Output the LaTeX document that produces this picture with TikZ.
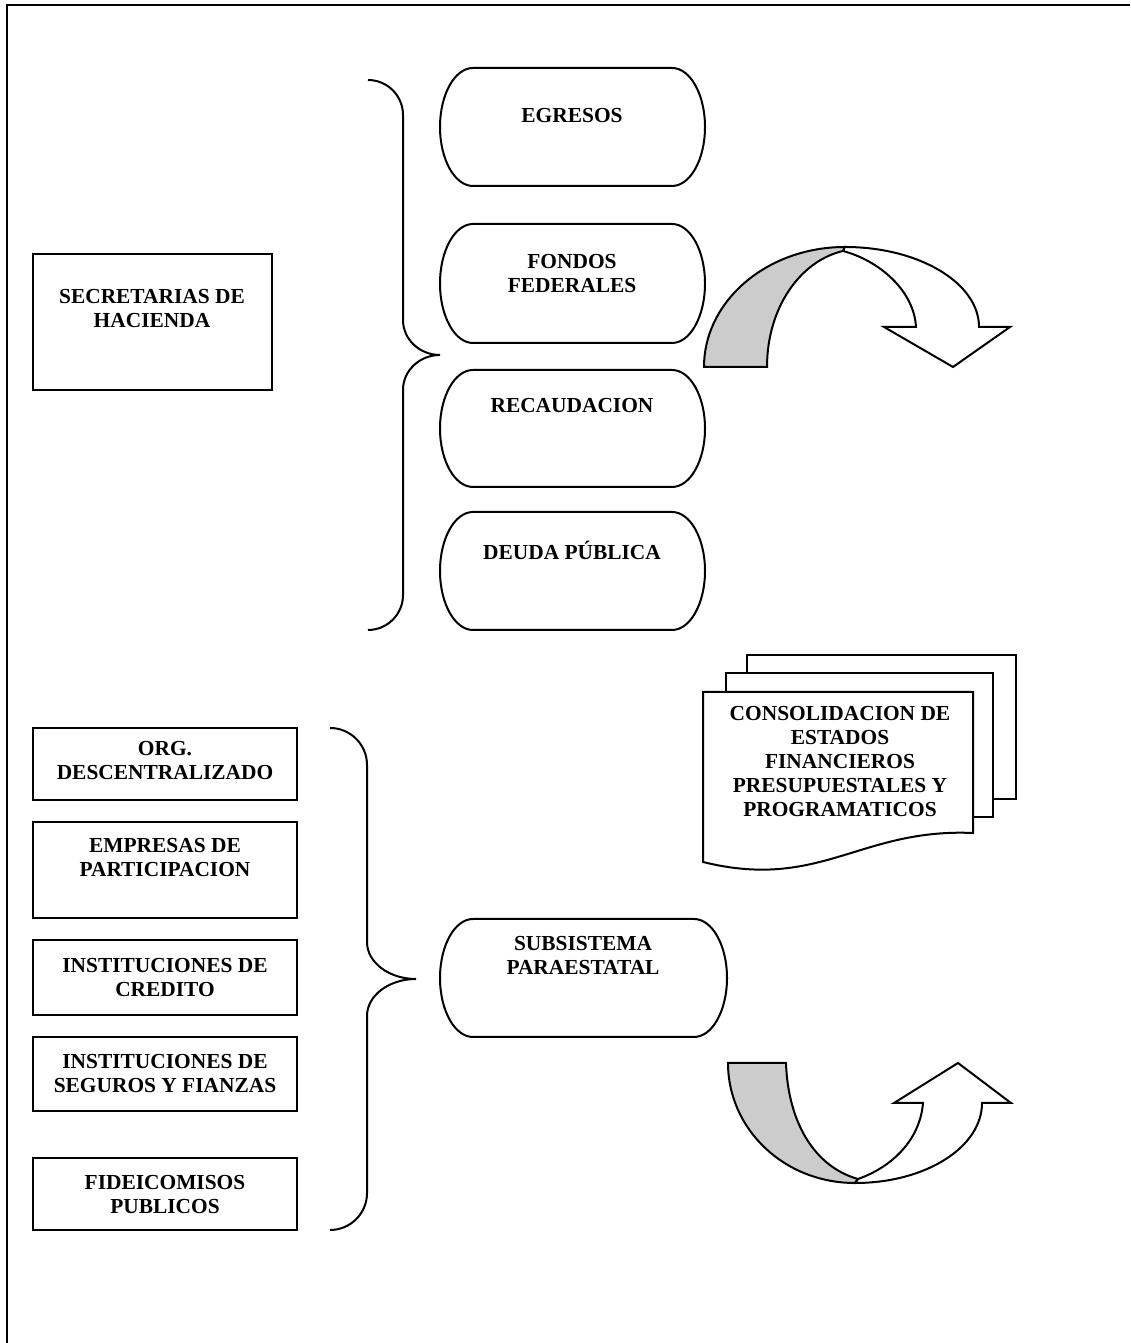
\documentclass[tikz,border=0pt]{standalone}
\usepackage{fontspec}
\setmainfont{Liberation Serif}
\begin{document}
\begin{tikzpicture}[x=0.5pt, y=0.5pt,
    borde/.style={line width=1pt},
    marco/.style={line width=1.3pt},
    hoja/.style={borde, fill=white},
    sombra/.style={borde, fill=black!20},
    texto/.style={font=\fontsize{10.7}{12}\selectfont\bfseries, align=center, inner sep=0pt}]
  \useasboundingbox (0,0) rectangle (1130,1343);
  \draw[marco] (7,0) -- (7,1338) -- (1130,1338);
  % secretarias de hacienda
  \draw[borde] (33,1089) rectangle (272,953);
  \node[texto] (hacienda) at (152,1034) {SECRETARIAS DE\\HACIENDA};
  \draw[borde] (368,1263) arc[start angle=90, end angle=0, radius=35] -- (403,1023)
    arc[start angle=180, end angle=270, x radius=37, y radius=35]
    arc[start angle=90, end angle=180, x radius=37, y radius=35] -- (403,748)
    arc[start angle=0, end angle=-90, radius=35];
  \draw[borde] (473,1275) -- (672,1275) arc[start angle=90, end angle=-90, x radius=33, y radius=59]
    -- (473,1157) arc[start angle=270, end angle=90, x radius=33, y radius=59] -- cycle;
  \node[texto] (egresos) at (572,1227) {EGRESOS};
  \draw[borde] (473,1119) -- (672,1119) arc[start angle=90, end angle=-90, x radius=33, y radius=59.5]
    -- (473,1000) arc[start angle=270, end angle=90, x radius=33, y radius=59.5] -- cycle;
  \node[texto] (fondos) at (572,1069) {FONDOS\\FEDERALES};
  \draw[borde] (473,973) -- (672,973) arc[start angle=90, end angle=-90, x radius=33, y radius=58.5]
    -- (473,856) arc[start angle=270, end angle=90, x radius=33, y radius=58.5] -- cycle;
  \node[texto] (recaudacion) at (572,937) {RECAUDACION};
  \draw[borde] (473,831) -- (672,831) arc[start angle=90, end angle=-90, x radius=33, y radius=59]
    -- (473,713) arc[start angle=270, end angle=90, x radius=33, y radius=59] -- cycle;
  \node[texto] (deuda) at (572,793) {DEUDA PÚBLICA};
  % flecha curva de arriba
  \draw[sombra] (704,976) .. controls (704,1042) and (767,1096) .. (845,1096)
    .. controls (844,1094) .. (843,1092)
    .. controls (800,1082) and (767,1035) .. (767,976) -- cycle;
  \draw[hoja] (845,1096) .. controls (919,1096) and (979,1060) .. (979,1016) -- (1010,1016)
    -- (953,976) -- (884,1016) -- (916,1016) .. controls (914,1052) and (880,1082) .. (843,1092)
    .. controls (844,1094) .. (845,1096) -- cycle;
  % consolidacion
  \draw[hoja] (747,688) rectangle (1016,544);
  \draw[hoja] (726,670) rectangle (993,526);
  \draw[hoja] (703,651) -- (973,651) -- (973,510) .. controls (860,515) and (820,452) .. (703,481) -- cycle;
  \node[texto] (consolidacion) at (840,581.5)
    {CONSOLIDACION DE\\ESTADOS\\FINANCIEROS\\PRESUPUESTALES Y\\PROGRAMATICOS};
  % subsistema paraestatal
  \draw[borde] (33,615) rectangle (297,543);
  \node[texto] (org) at (165,582) {ORG.\\DESCENTRALIZADO};
  \draw[borde] (33,521) rectangle (297,425);
  \node[texto] (empresas) at (165,485) {EMPRESAS DE\\PARTICIPACION};
  \draw[borde] (33,403) rectangle (297,328);
  \node[texto] (credito) at (165,365) {INSTITUCIONES DE\\CREDITO};
  \draw[borde] (33,306) rectangle (297,232);
  \node[texto] (seguros) at (165,269) {INSTITUCIONES DE\\SEGUROS Y FIANZAS};
  \draw[borde] (33,185) rectangle (297,113);
  \node[texto] (fideicomisos) at (165,148) {FIDEICOMISOS\\PUBLICOS};
  \draw[borde] (330,615) arc[start angle=90, end angle=0, radius=37] -- (367,401)
    arc[start angle=180, end angle=270, x radius=49, y radius=37]
    arc[start angle=90, end angle=180, x radius=49, y radius=37] -- (367,150)
    arc[start angle=0, end angle=-90, radius=37];
  \draw[borde] (473,424) -- (694,424) arc[start angle=90, end angle=-90, x radius=33, y radius=59]
    -- (473,306) arc[start angle=270, end angle=90, x radius=33, y radius=59] -- cycle;
  \node[texto] (paraestatal) at (583,387) {SUBSISTEMA\\PARAESTATAL};
  % flecha curva de abajo
  \draw[sombra] (728,280) .. controls (728,214) and (784,160) .. (855,160)
    .. controls (857,162) .. (858,164)
    .. controls (815,176) and (788,220) .. (786,280) -- cycle;
  \draw[hoja] (855,160) .. controls (926,160) and (982,196) .. (982,240) -- (1011,240)
    -- (958,280) -- (894,240) -- (923,240) .. controls (920,203) and (892,176) .. (858,164)
    .. controls (857,162) .. (855,160) -- cycle;
\end{tikzpicture}
\end{document}
